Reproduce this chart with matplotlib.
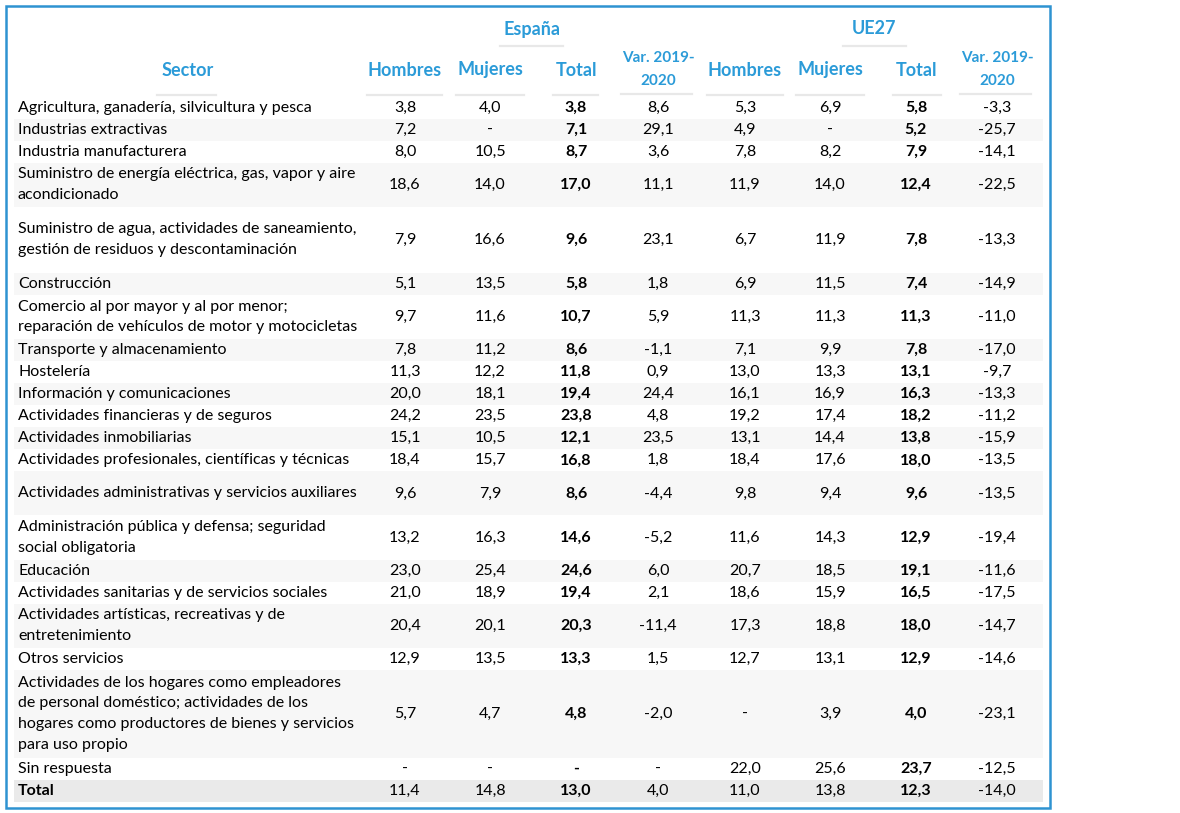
import matplotlib.pyplot as plt
from matplotlib.patches import Rectangle

plt.rcParams['font.family'] = ['Lato', 'DejaVu Sans']

# table data
sectors = [
    "Agricultura, ganadería, silvicultura y pesca",
    "Industrias extractivas",
    "Industria manufacturera",
    "Suministro de energía eléctrica, gas, vapor y aire\nacondicionado",
    "Suministro de agua, actividades de saneamiento,\ngestión de residuos y descontaminación",
    "Construcción",
    "Comercio al por mayor y al por menor;\nreparación de vehículos de motor y motocicletas",
    "Transporte y almacenamiento",
    "Hostelería",
    "Información y comunicaciones",
    "Actividades financieras y de seguros",
    "Actividades inmobiliarias",
    "Actividades profesionales, científicas y técnicas",
    "Actividades administrativas y servicios auxiliares",
    "Administración pública y defensa; seguridad\nsocial obligatoria",
    "Educación",
    "Actividades sanitarias y de servicios sociales",
    "Actividades artísticas, recreativas y de\nentretenimiento",
    "Otros servicios",
    "Actividades de los hogares como empleadores\nde personal doméstico; actividades de los\n"
    "hogares como productores de bienes y servicios\npara uso propio",
    "Sin respuesta",
    "Total",
]

es_hombres = [3.8, 7.2, 8.0, 18.6, 7.9, 5.1, 9.7, 7.8, 11.3, 20.0, 24.2, 15.1, 18.4, 9.6,
              13.2, 23.0, 21.0, 20.4, 12.9, 5.7, None, 11.4]
es_mujeres = [4.0, None, 10.5, 14.0, 16.6, 13.5, 11.6, 11.2, 12.2, 18.1, 23.5, 10.5, 15.7, 7.9,
              16.3, 25.4, 18.9, 20.1, 13.5, 4.7, None, 14.8]
es_total = [3.8, 7.1, 8.7, 17.0, 9.6, 5.8, 10.7, 8.6, 11.8, 19.4, 23.8, 12.1, 16.8, 8.6,
            14.6, 24.6, 19.4, 20.3, 13.3, 4.8, None, 13.0]
es_var = [8.6, 29.1, 3.6, 11.1, 23.1, 1.8, 5.9, -1.1, 0.9, 24.4, 4.8, 23.5, 1.8, -4.4,
          -5.2, 6.0, 2.1, -11.4, 1.5, -2.0, None, 4.0]
ue_hombres = [5.3, 4.9, 7.8, 11.9, 6.7, 6.9, 11.3, 7.1, 13.0, 16.1, 19.2, 13.1, 18.4, 9.8,
              11.6, 20.7, 18.6, 17.3, 12.7, None, 22.0, 11.0]
ue_mujeres = [6.9, None, 8.2, 14.0, 11.9, 11.5, 11.3, 9.9, 13.3, 16.9, 17.4, 14.4, 17.6, 9.4,
              14.3, 18.5, 15.9, 18.8, 13.1, 3.9, 25.6, 13.8]
ue_total = [5.8, 5.2, 7.9, 12.4, 7.8, 7.4, 11.3, 7.8, 13.1, 16.3, 18.2, 13.8, 18.0, 9.6,
            12.9, 19.1, 16.5, 18.0, 12.9, 4.0, 23.7, 12.3]
ue_var = [-3.3, -25.7, -14.1, -22.5, -13.3, -14.9, -11.0, -17.0, -9.7, -13.3, -11.2, -15.9,
          -13.5, -13.5, -19.4, -11.6, -17.5, -14.7, -14.6, -23.1, -12.5, -14.0]

col_headers = ["Hombres", "Mujeres", "Total", "Var. 2019-\n2020"] * 2
groups = ["España", "UE27"]

# layout
row_lines = [1, 1, 1, 2, 3, 1, 2, 1, 1, 1, 1, 1, 1, 2, 2, 1, 1, 2, 1, 4, 1, 1]
line_h = 22.05
top = 96.5
col_x = [405, 490, 576, 658, 745, 830, 916, 997]
col_ul = [(367, 442), (456, 524), (553, 598), (621, 692),
          (707, 783), (796, 864), (893, 941), (960, 1031)]
blue = '#2b9bd8'
ul_color = '#e8e8e8'
fs = 11.5


def fmt(v):
    if v is None:
        return '-'
    return f"{v:.1f}".replace('.', ',')


fig = plt.figure(figsize=(11.8, 8.13), dpi=100)
ax = fig.add_axes([0, 0, 1, 1])
ax.set_xlim(0, 1180)
ax.set_ylim(813, 0)
ax.axis('off')

# outer frame
ax.add_patch(Rectangle((5.5, 6.5), 1044.5, 801, fill=False, ec='#2e93d1', lw=1.8, zorder=5))

# group headers
for name, cx, (x0, x1) in zip(groups, [532, 874], [(500, 563), (843, 906)]):
    ax.text(cx, 29, name, ha='center', va='center', color=blue, fontsize=13, fontweight='bold')
    ax.plot([x0, x1], [46, 46], color=ul_color, lw=1.6)

ax.text(188, 70, "Sector", ha='center', va='center', color=blue, fontsize=13, fontweight='bold')
ax.plot([157, 216], [95, 95], color=ul_color, lw=1.6)

for h, cx, (x0, x1) in zip(col_headers, col_x, col_ul):
    if h.startswith('Var'):
        ax.text(cx, 69.5, h, ha='center', va='center', color=blue, fontsize=11,
                fontweight='bold', linespacing=1.8)
        ax.plot([x0, x1], [94, 94], color=ul_color, lw=1.6)
    else:
        ax.text(cx, 70, h, ha='center', va='center', color=blue, fontsize=13, fontweight='bold')
        ax.plot([x0, x1], [95, 95], color=ul_color, lw=1.6)

columns = [es_hombres, es_mujeres, es_total, es_var, ue_hombres, ue_mujeres, ue_total, ue_var]
bold_cols = {2, 6}

y = top
for i, (label, n) in enumerate(zip(sectors, row_lines)):
    h = n * line_h
    is_total = label == "Total"
    if is_total:
        ax.add_patch(Rectangle((14, y), 1029, h, fc='#eaeaea', ec='none', zorder=0))
    elif i % 2 == 1:
        ax.add_patch(Rectangle((14, y), 1029, h, fc='#f7f7f7', ec='none', zorder=0))
    cy = y + h / 2
    ax.text(18, cy, label, ha='left', va='center', fontsize=fs, color='black',
            fontweight='bold' if is_total else 'normal', linespacing=1.62)
    for j, (cx, col) in enumerate(zip(col_x, columns)):
        ax.text(cx, cy, fmt(col[i]), ha='center', va='center', fontsize=fs, color='black',
                fontweight='bold' if j in bold_cols else 'normal')
    y += h

fig.savefig('out.png', dpi=100, facecolor='white')
